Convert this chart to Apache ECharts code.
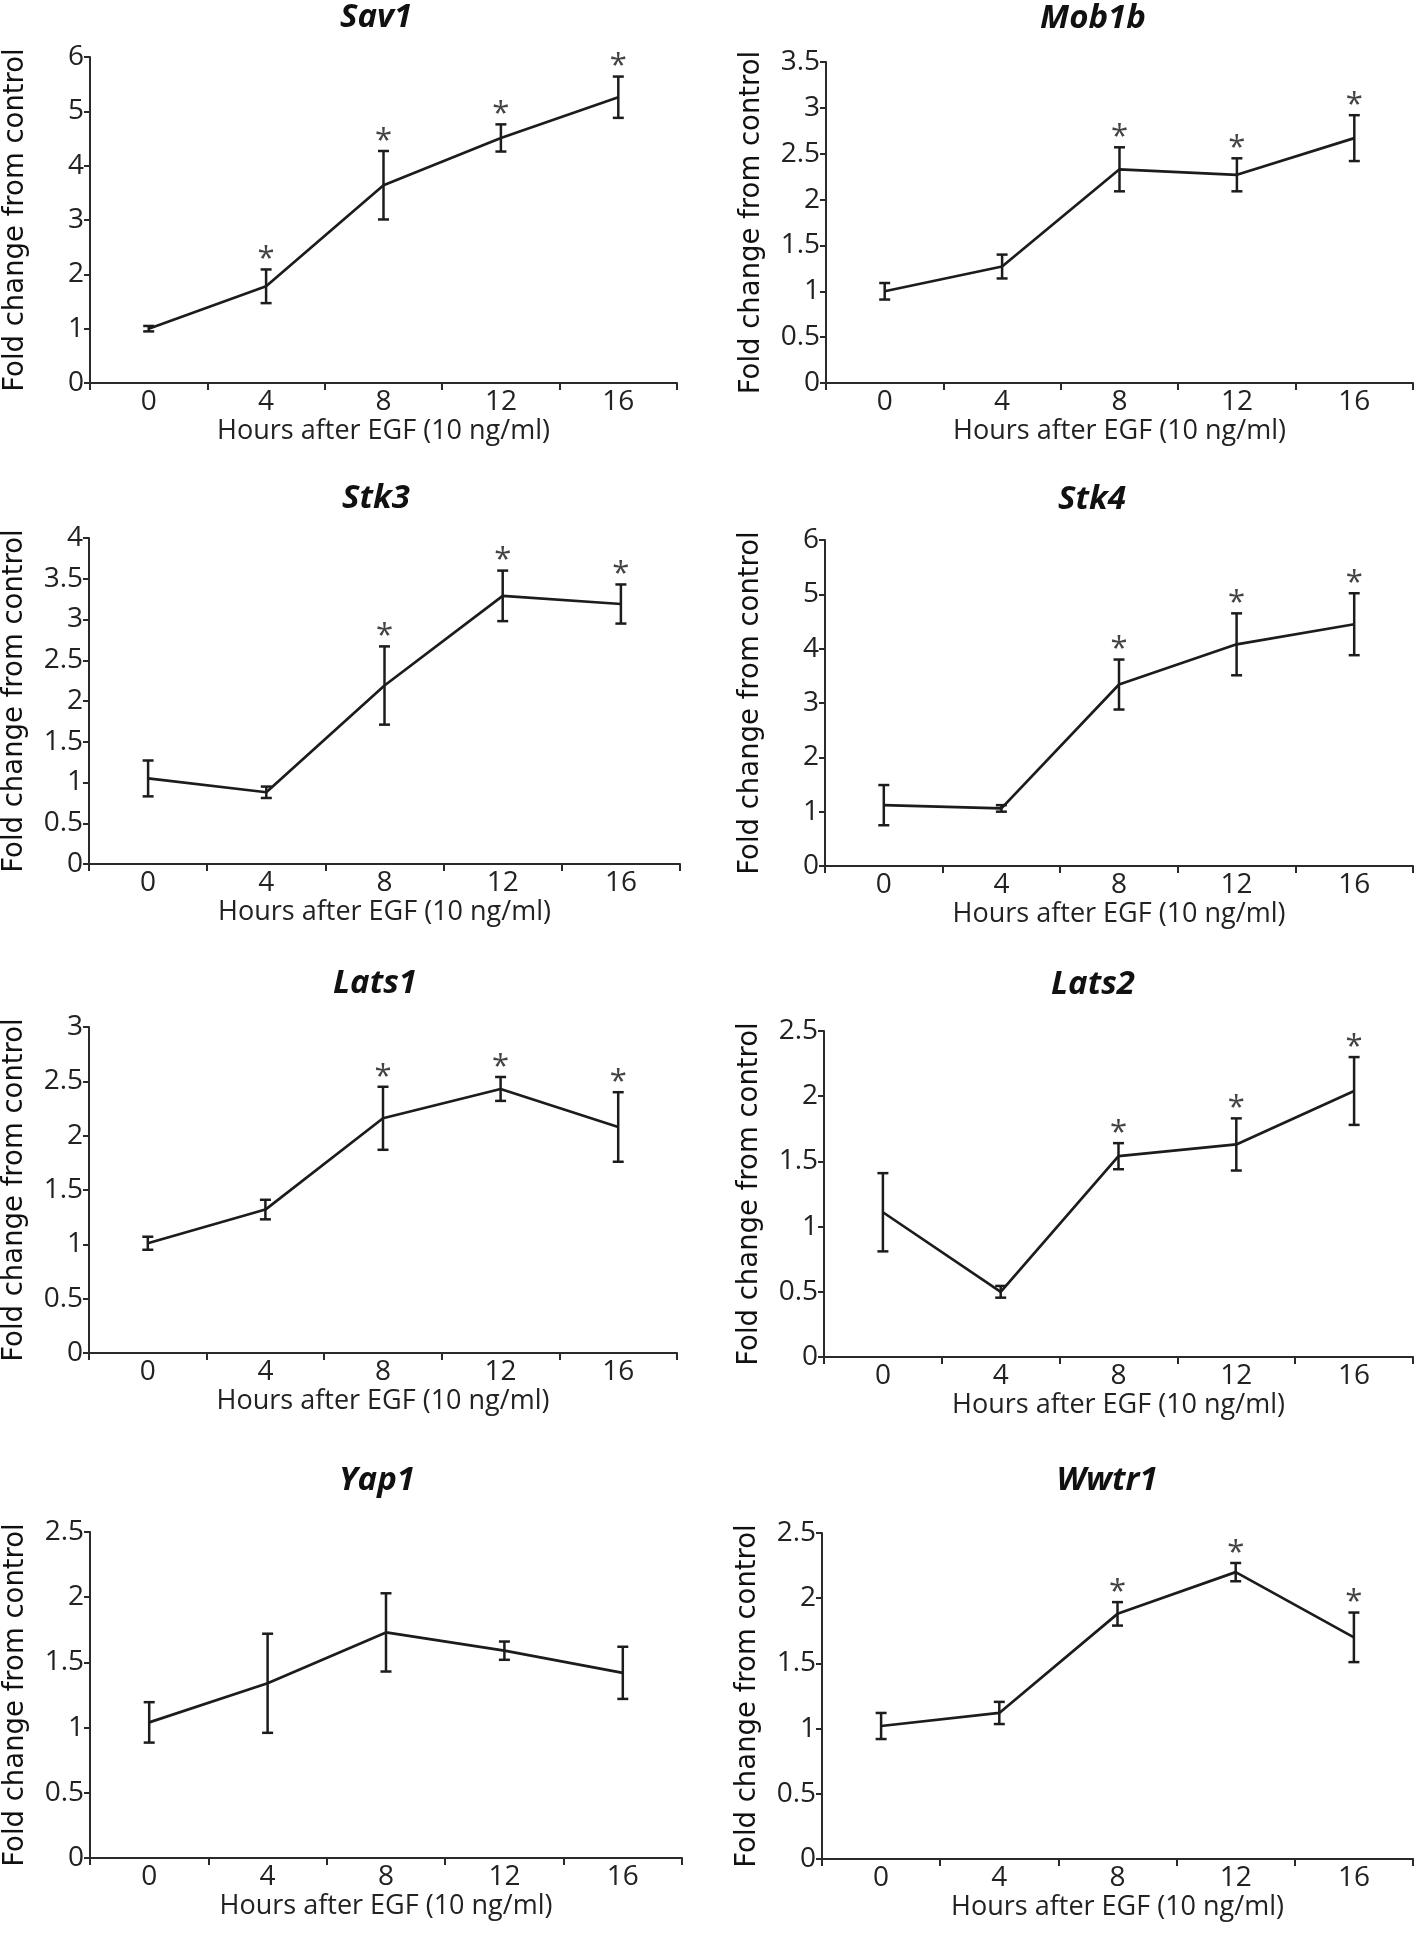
<!DOCTYPE html>
<html>
<head>
<meta charset="utf-8">
<script src="https://cdn.jsdelivr.net/npm/echarts@6/dist/echarts.min.js"></script>
<style>
html,body{margin:0;padding:0;background:#fff;}
#chart{width:1418px;height:1933px;}
</style>
</head>
<body>
<div id="chart"></div>
<script>
// ---------------- data ----------------
const categories = ['0', '4', '8', '12', '16'];
const geneNames = ['Sav1', 'Mob1b', 'Stk3', 'Stk4', 'Lats1', 'Lats2', 'Yap1', 'Wwtr1'];

const sav1Mean = [1.00, 1.78, 3.64, 4.51, 5.26];
const sav1Err  = [0.05, 0.31, 0.63, 0.25, 0.38];
const sav1Sig  = [0, 1, 1, 1, 1];

const mob1bMean = [1.00, 1.27, 2.33, 2.27, 2.67];
const mob1bErr  = [0.09, 0.13, 0.24, 0.18, 0.25];
const mob1bSig  = [0, 0, 1, 1, 1];

const stk3Mean = [1.05, 0.88, 2.19, 3.29, 3.19];
const stk3Err  = [0.22, 0.07, 0.48, 0.31, 0.24];
const stk3Sig  = [0, 0, 1, 1, 1];

const stk4Mean = [1.12, 1.06, 3.34, 4.08, 4.45];
const stk4Err  = [0.37, 0.06, 0.46, 0.57, 0.57];
const stk4Sig  = [0, 0, 1, 1, 1];

const lats1Mean = [1.01, 1.32, 2.16, 2.43, 2.08];
const lats1Err  = [0.06, 0.09, 0.29, 0.11, 0.32];
const lats1Sig  = [0, 0, 1, 1, 1];

const lats2Mean = [1.11, 0.50, 1.54, 1.63, 2.04];
const lats2Err  = [0.30, 0.045, 0.10, 0.20, 0.26];
const lats2Sig  = [0, 0, 1, 1, 1];

const yap1Mean = [1.04, 1.34, 1.73, 1.59, 1.42];
const yap1Err  = [0.155, 0.38, 0.30, 0.07, 0.20];
const yap1Sig  = [0, 0, 0, 0, 0];

const wwtr1Mean = [1.02, 1.12, 1.88, 2.20, 1.70];
const wwtr1Err  = [0.10, 0.085, 0.09, 0.07, 0.19];
const wwtr1Sig  = [0, 0, 1, 1, 1];

const yMaxes    = [6, 3.5, 4, 6, 3, 2.5, 2.5, 2.5];
const yIntervals = [1, 0.5, 0.5, 1, 0.5, 0.5, 0.5, 0.5];

const yAxisTitle = 'Fold change from control';
const xAxisTitle = 'Hours after EGF (10 ng/ml)';

// ---------------- layout (positions only) ----------------
const gridBoxes = [
  [90, 57, 587, 326], [826, 62, 587, 321],
  [86, 538, 594, 326], [825, 540, 588, 326],
  [88, 1027, 589, 326], [824, 1031, 589, 326],
  [90, 1532, 592, 326], [822, 1533, 591, 326]
];
const titleCenters = [
  [376, 18], [1093, 19], [376, 499], [1092, 500],
  [375, 984], [1093, 985], [377, 1481], [1107, 1481]
];

const means = [sav1Mean, mob1bMean, stk3Mean, stk4Mean, lats1Mean, lats2Mean, yap1Mean, wwtr1Mean];
const errs  = [sav1Err, mob1bErr, stk3Err, stk4Err, lats1Err, lats2Err, yap1Err, wwtr1Err];
const sigs  = [sav1Sig, mob1bSig, stk3Sig, stk4Sig, lats1Sig, lats2Sig, yap1Sig, wwtr1Sig];

const INK = '#1c1c1c';
const AXIS = '#2a2a2a';
const TICKFONT = "'Open Sans', 'Liberation Sans', Arial, sans-serif";

const grid = [], xAxis = [], yAxis = [], series = [], graphic = [];

geneNames.forEach((g, i) => {
  const b = gridBoxes[i];
  grid.push({ left: b[0], top: b[1], width: b[2], height: b[3], containLabel: false });
  xAxis.push({
    type: 'category', gridIndex: i, data: categories, boundaryGap: true,
    axisLine: { show: true, lineStyle: { color: AXIS, width: 2 } },
    axisTick: { show: true, interval: 0, length: 7, alignWithLabel: false, lineStyle: { color: AXIS, width: 2 } },
    axisLabel: { color: '#222', fontSize: 28, fontFamily: TICKFONT, margin: 5 },
    name: xAxisTitle, nameLocation: 'middle', nameGap: 35,
    nameTextStyle: { color: '#222', fontSize: 27, fontFamily: TICKFONT },
    splitLine: { show: false }
  });
  yAxis.push({
    type: 'value', gridIndex: i, min: 0, max: yMaxes[i], interval: yIntervals[i],
    axisLine: { show: true, lineStyle: { color: AXIS, width: 2 } },
    axisTick: { show: true, length: 6, lineStyle: { color: AXIS, width: 2 } },
    axisLabel: { color: '#222', fontSize: 28, fontFamily: TICKFONT, margin: 6 },
    splitLine: { show: false },
    name: yAxisTitle, nameLocation: 'middle', nameRotate: 90, nameGap: 60,
    nameTextStyle: { color: '#111', fontSize: 27.5, fontFamily: "'DejaVu Sans', sans-serif" }
  });
  series.push({
    type: 'line', xAxisIndex: i, yAxisIndex: i, data: means[i],
    symbol: 'none', silent: true, animation: false,
    lineStyle: { color: INK, width: 2.7 }, z: 3
  });
  const ebData = means[i].map((m, k) => [k, m, errs[i][k], sigs[i][k]]);
  series.push({
    type: 'custom', xAxisIndex: i, yAxisIndex: i, data: ebData, animation: false, silent: true, z: 4,
    encode: { x: 0, y: 1 },
    renderItem: function (params, api) {
      const k = api.value(0), m = api.value(1), e = api.value(2), s = api.value(3);
      const hi = api.coord([k, m + e]);
      const lo = api.coord([k, m - e]);
      const cap = 5.5;
      const st = { stroke: INK, lineWidth: 2.5 };
      const children = [
        { type: 'line', shape: { x1: hi[0], y1: hi[1], x2: lo[0], y2: lo[1] }, style: st },
        { type: 'line', shape: { x1: hi[0] - cap, y1: hi[1], x2: hi[0] + cap, y2: hi[1] }, style: st },
        { type: 'line', shape: { x1: lo[0] - cap, y1: lo[1], x2: lo[0] + cap, y2: lo[1] }, style: st }
      ];
      if (s) {
        children.push({
          type: 'text',
          style: {
            text: '*', x: hi[0], y: hi[1] - 10,
            align: 'center', verticalAlign: 'middle',
            textAlign: 'center', textVerticalAlign: 'middle',
            font: "normal 31px 'Open Sans', 'Liberation Sans', sans-serif", fill: '#444'
          }
        });
      }
      return { type: 'group', children: children };
    }
  });
  const t = titleCenters[i];
  graphic.push({
    type: 'text', x: t[0], y: t[1],
    style: {
      text: g, x: 0, y: 0,
      align: 'center', verticalAlign: 'middle',
      textAlign: 'center', textVerticalAlign: 'middle',
      font: "italic bold 33px 'Open Sans', 'Liberation Sans', Arial, sans-serif", fill: '#111'
    }
  });
});

const chart = echarts.init(document.getElementById('chart'), null, { renderer: 'canvas' });
chart.setOption({
  backgroundColor: '#ffffff',
  animation: false,
  grid: grid, xAxis: xAxis, yAxis: yAxis, series: series, graphic: graphic
});
</script>
</body>
</html>
